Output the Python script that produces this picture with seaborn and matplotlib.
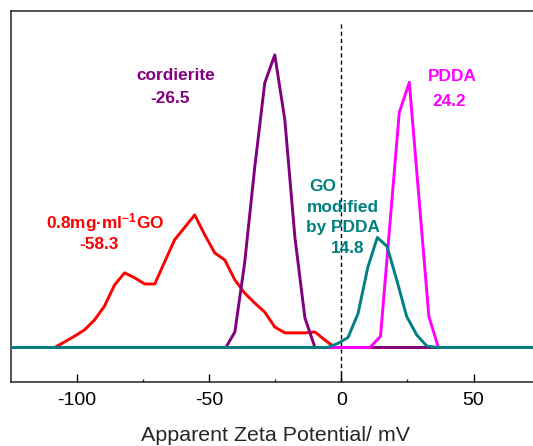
import pandas as pd
import matplotlib
matplotlib.use("Agg")
import matplotlib.pyplot as plt
import seaborn as sns

# data (zeta potential distributions, intensity a.u.)
go_x = [-125, -108.5, -104.7, -100.9, -97.2, -93.4, -89.6, -85.8, -82.0, -78.2, -74.4,
        -70.6, -66.9, -63.1, -55.5, -51.7, -47.9, -44.1, -40.3, -36.6, -32.8, -29.0,
        -25.2, -21.4, -17.6, -13.8, -10.0, -6.3, -2.5, 72.5]
go_y = [0, 0, 1.9, 3.9, 6.0, 9.4, 14.2, 21.4, 25.5, 23.8, 21.7,
        21.7, 29.2, 36.8, 45.3, 38.5, 32.3, 29.9, 23.1, 18.6, 15.2, 12.1,
        7.0, 5.0, 5.0, 5.0, 5.3, 2.6, 0, 0]

cord_x = [-125, -43.7, -40.3, -36.6, -32.8, -29.0, -25.2, -21.4, -17.6, -13.8, -10.0, 72.5]
cord_y = [0, 0, 5.3, 28.9, 61.4, 90.4, 100, 77.8, 37.8, 10.1, 0, 0]

pdda_x = [-125, 10.8, 14.8, 21.9, 25.7, 33.1, 36.7, 72.5]
pdda_y = [0, 0, 3.8, 80.3, 90.6, 10.6, 0, 0]

gop_x = [-125, -5.5, -1.3, 2.5, 6.3, 10.0, 13.6, 17.3, 21.0, 24.7, 28.5, 32.3, 36.2, 72.5]
gop_y = [0, 0, 1.4, 3.4, 11.6, 27.4, 37.6, 34.5, 22.9, 10.6, 4.3, 0.5, 0, 0]

series = ["GO", "cordierite", "PDDA", "GO/PDDA"]
colors = ["#FF0000", "#800080", "#FF00FF", "#008080"]

df = pd.concat([
    pd.DataFrame({"zeta": go_x, "intensity": go_y, "sample": "GO"}),
    pd.DataFrame({"zeta": cord_x, "intensity": cord_y, "sample": "cordierite"}),
    pd.DataFrame({"zeta": pdda_x, "intensity": pdda_y, "sample": "PDDA"}),
    pd.DataFrame({"zeta": gop_x, "intensity": gop_y, "sample": "GO/PDDA"}),
])

sns.set_style("ticks")
plt.rcParams["font.family"] = ["Liberation Sans", "DejaVu Sans"]
plt.rcParams["axes.unicode_minus"] = False
plt.rcParams["mathtext.fontset"] = "custom"
plt.rcParams["mathtext.rm"] = "Liberation Sans:bold"
plt.rcParams["mathtext.default"] = "rm"

W, H = 533, 446
fig = plt.figure(figsize=(W / 100, H / 100), dpi=100)
ax = fig.add_axes([11 / W, 1 - 382 / H, 1 - 11 / W, (382 - 11) / H])

ax.axvline(0, ymin=0, ymax=0.968, color="black", lw=1, ls=(0, (3, 2.2)), zorder=1)

sns.lineplot(data=df, x="zeta", y="intensity", hue="sample", hue_order=series,
             palette=colors, lw=2.1, legend=False, ax=ax, zorder=3)

ax.set_xlim(-125, 72.5)
ax.set_ylim(-11.8, 115.0)
ax.set_yticks([])
ax.set_ylabel("")
ax.set_xticks([-100, -50, 0, 50])
ax.set_xticks([-75, -25, 25], minor=True)
ax.tick_params(axis="x", which="major", direction="in", length=5.6, width=1,
               labelsize=14, pad=7, colors="black")
ax.tick_params(axis="x", which="minor", direction="in", length=2.5, width=1)
for s in ["left", "bottom", "top"]:
    ax.spines[s].set_color("#222222")
    ax.spines[s].set_linewidth(1.1)
ax.spines["right"].set_visible(False)

ax.set_xlabel("Apparent Zeta Potential/ mV", fontsize=15.4)
ax.xaxis.set_label_coords((275.8 - 11) / (W - 11), (382 - 435.4) / (382 - 11))
ax.xaxis.label.set_va("center")


def lbl(xp, yp, s, c):
    fig.text(xp / W, 1 - yp / H, s, color=c, fontsize=12.4, fontweight="bold",
             ha="center", va="baseline")


lbl(176, 80, "cordierite", "#800080")
lbl(170, 102.7, "-26.5", "#800080")
lbl(105, 228.3, r"0.8mg·ml$^{-1}$GO", "#FF0000")
lbl(99.5, 249.3, "-58.3", "#FF0000")
lbl(322.5, 190.7, "GO", "#008080")
lbl(342.5, 211.7, "modified", "#008080")
lbl(343, 231.7, "by PDDA", "#008080")
lbl(348, 253.3, "14.8", "#008080")
lbl(452, 81, "PDDA", "#FF00FF")
lbl(449, 106, "24.2", "#FF00FF")

fig.savefig("out.png", dpi=100)
